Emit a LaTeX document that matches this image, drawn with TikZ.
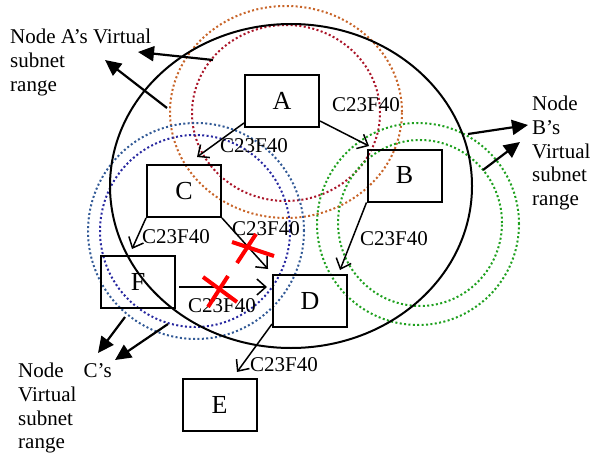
\documentclass[tikz,border=0pt]{standalone}
\usepackage{fontspec}
\setmainfont{Liberation Serif}
\usetikzlibrary{arrows.meta,calc}

\definecolor{rangeorange}{RGB}{200,100,40}
\definecolor{rangered}{RGB}{170,20,40}
\definecolor{rangesteel}{RGB}{50,90,150}
\definecolor{rangeblue}{RGB}{40,40,160}
\definecolor{rangegreen}{RGB}{30,160,30}

\tikzset{
  nodebox/.style={draw, line width=2pt, minimum width=74pt, minimum height=52pt,
    inner sep=0pt, font=\fontsize{26}{30}\selectfont},
  lbl/.style={font=\fontsize{21}{24}\selectfont, inner sep=0pt, anchor=base west},
  note/.style={font=\fontsize{21}{23.7}\selectfont, inner sep=0pt, anchor=north west, align=left},
  link/.style={line width=1.5pt, -{Straight Barb[length=9pt,width=16pt,line width=1.5pt]}},
  pointer/.style={line width=2.2pt, -{Triangle[length=16pt,width=15pt]}},
  subnetring/.style={line width=2pt, dash pattern=on 2pt off 2.4pt},
  cut/.style={red, line width=4pt},
}

\begin{document}
\begin{tikzpicture}[x=1pt,y=-1pt]
\useasboundingbox (0,0) rectangle (593,457);

% subnet ranges
\draw[subnetring, rangeorange] (286,112) ellipse [x radius=116pt, y radius=106pt];
\draw[subnetring, rangered]    (286,113) ellipse [x radius=94pt,  y radius=88pt];
\draw[subnetring, rangesteel]  (196,231) ellipse [x radius=108pt, y radius=108pt];
\draw[subnetring, rangeblue]   (195,231) ellipse [x radius=95pt,  y radius=96pt];
\draw[subnetring, rangegreen]  (418,224) ellipse [x radius=101pt, y radius=101pt];
\draw[subnetring, rangegreen]  (420,223) ellipse [x radius=82pt,  y radius=83pt];

% overall network boundary
\draw[line width=2pt] (291,186) ellipse [x radius=181pt, y radius=162pt];

% nodes
\node[nodebox] (A) at (282,101)   {A};
\node[nodebox] (B) at (404.5,175.5) {B};
\node[nodebox] (C) at (184,191)   {C};
\node[nodebox] (F) at (138,281.5) {F};
\node[nodebox] (D) at (310,301)   {D};
\node[nodebox] (E) at (219.5,405) {E};

% arrow end points
\coordinate (ac) at (197,157);
\coordinate (ab) at (369,146);
\coordinate (bd) at (340,270);
\coordinate (cf) at (132,249);
\coordinate (cd) at (268,269);
\coordinate (fd) at (267,287);
\coordinate (de) at (237,372);

% forwarded addresses
\draw[link] ($(A.south west)+(0,-5)$) -- (ac);
\draw[link] ($(A.south east)+(0,-7)$) -- (ab);
\draw[link] (B.south west) -- (bd);
\draw[link] (C.south west) -- (cf);
\draw[link] (C.south east) -- (cd);
\draw[link] ($(F.east)+(3,5.5)$) -- (fd);
\draw[link] ($(D.south west)+(0,-4)$) -- (de);

\node[lbl] (lac) at (220,152) {C23F40};
\node[lbl] (lab) at (332,112) {C23F40};
\node[lbl] (lbd) at (360,245) {C23F40};
\node[lbl] (lcf) at (142,243) {C23F40};
\node[lbl] (lcd) at (232,235) {C23F40};
\node[lbl] (lfd) at (188,312) {C23F40};
\node[lbl] (lde) at (250,371) {C23F40};

% blocked paths
\draw[cut] (232,242) -- (274,256);
\draw[cut] (256,234) -- (237,263);
\draw[cut] (203,277) -- (237,302);
\draw[cut] (228,276) -- (208,307);

% range annotations
\node[note] (noteA) at (10,29) {Node A’s Virtual\\subnet\\range};
\node[note] (noteB) at (532,96) {Node\\B’s\\Virtual\\subnet\\range};
\node[note] (noteC) at (18,363) {Node\hspace{20pt}C’s\\Virtual\\subnet\\range};

\coordinate (pa1) at (213,60);  \coordinate (ha1) at (138,52);
\coordinate (pa2) at (167,108); \coordinate (ha2) at (105,60);
\coordinate (pb1) at (468,134); \coordinate (hb1) at (528,125);
\coordinate (pb2) at (483,170); \coordinate (hb2) at (520,142);
\coordinate (pc1) at (125,317); \coordinate (hc1) at (98,353);
\coordinate (pc2) at (168,324); \coordinate (hc2) at (115,360);

\draw[pointer] (pa1) -- (ha1);
\draw[pointer] (pa2) -- (ha2);
\draw[pointer] (pb1) -- (hb1);
\draw[pointer] (pb2) -- (hb2);
\draw[pointer] (pc1) -- (hc1);
\draw[pointer] (pc2) -- (hc2);
\end{tikzpicture}
\end{document}
